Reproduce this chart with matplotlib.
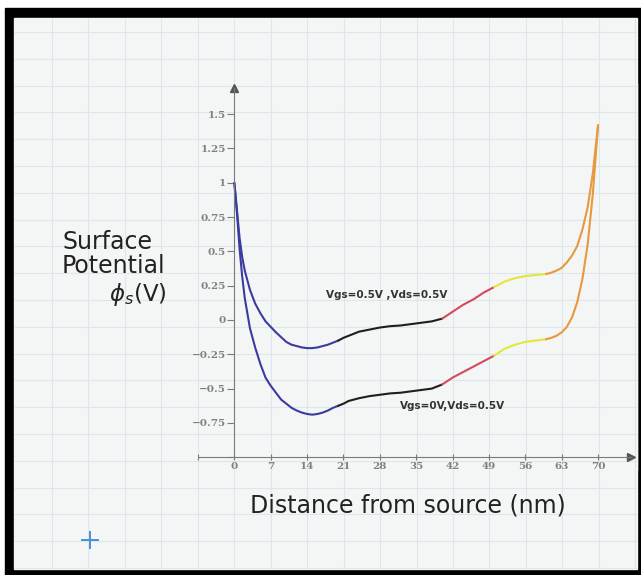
import matplotlib.pyplot as plt
import numpy as np
from matplotlib.patches import Rectangle

# curve data (distance in nm, potential in V)
x_up = [0, 0.5, 1, 1.5, 2, 3, 4, 5, 6, 7, 8, 9, 10, 11, 12, 13, 14, 15, 16, 17, 18, 19, 20,
        21, 22, 23, 24, 26, 28, 30, 32, 34, 36, 38, 40,
        41, 42, 44, 46, 48, 50,
        52, 54, 56, 58, 60,
        61, 62, 63, 64, 65, 66, 67, 68, 69, 70]
y_up = [1.0, 0.80, 0.60, 0.46, 0.36, 0.22, 0.12, 0.05, -0.01, -0.05, -0.09, -0.125, -0.16, -0.18, -0.19, -0.20, -0.205, -0.205, -0.20, -0.19, -0.18, -0.165, -0.15,
        -0.13, -0.115, -0.10, -0.085, -0.07, -0.055, -0.045, -0.04, -0.03, -0.02, -0.01, 0.01,
        0.035, 0.06, 0.11, 0.15, 0.20, 0.24,
        0.28, 0.305, 0.32, 0.328, 0.335,
        0.345, 0.36, 0.38, 0.42, 0.47, 0.54, 0.66, 0.82, 1.07, 1.42]

x_lo = x_up
y_lo = [1.0, 0.78, 0.52, 0.32, 0.16, -0.06, -0.2, -0.32, -0.42, -0.48, -0.53, -0.58, -0.61, -0.64, -0.66, -0.675, -0.685, -0.69, -0.685, -0.675, -0.66, -0.64, -0.625,
        -0.61, -0.59, -0.58, -0.57, -0.555, -0.545, -0.535, -0.53, -0.52, -0.51, -0.50, -0.47,
        -0.445, -0.42, -0.38, -0.34, -0.30, -0.26,
        -0.21, -0.18, -0.16, -0.15, -0.14,
        -0.13, -0.115, -0.09, -0.05, 0.02, 0.13, 0.30, 0.55, 0.92, 1.42]

# region boundaries and colours of the segments
seg_edges = [0, 20, 40, 50, 60, 70]
seg_colors = ['#3b3b9e', '#1e1e1e', '#d24a5c', '#e6e63a', '#e8983e']

xticks = list(range(-7, 71, 7))
yticks = [-1, -0.75, -0.5, -0.25, 0, 0.25, 0.5, 0.75, 1, 1.25, 1.5]

bgcol = '#f3f6f5'
gridcol = '#dde6ee'

fig = plt.figure(figsize=(6.41, 5.75), dpi=100)
fig.patch.set_facecolor('white')

# background sheet in pixel coordinates
bg = fig.add_axes([0, 0, 1, 1])
bg.set_xlim(0, 641)
bg.set_ylim(575, 0)
bg.axis('off')
bg.add_patch(Rectangle((5, 8), 636, 567, color='black'))
bg.add_patch(Rectangle((14, 18), 623, 551, color=bgcol))
for gx in np.arange(52, 637, 36.45):
    bg.vlines(gx, 18, 569, color=gridcol, lw=0.8)
for gy in np.arange(32, 569, 26.8):
    bg.hlines(gy, 14, 637, color=gridcol, lw=0.8)
bg.add_patch(Rectangle((199, 83), 438, 387, color=bgcol))
bg.plot(90, 540, marker='+', ms=13, mew=1.4, color='#4a8fd4')

bg.text(62, 242, 'Surface', fontsize=17, color='#222222', ha='left', va='center')
bg.text(62, 266, 'Potential', fontsize=17, color='#222222', ha='left', va='center')
bg.text(167, 294, r'$\phi_s$(V)', fontsize=16.5, color='#222222', ha='right', va='center')
bg.text(408, 506, 'Distance from source (nm)', fontsize=17, color='#222222', ha='center', va='center')

# plot axes, placed over the plain region
ax = fig.add_axes([198/641, 105/575, 439/641, 387/575])
ax.set_facecolor('none')
ax.set_xlim(-6.923, 77.5)
ax.set_ylim(-1.0933, 1.7274)

for xs, ys in [(x_up, y_up), (x_lo, y_lo)]:
    xs = np.array(xs)
    ys = np.array(ys)
    for i in range(len(seg_colors)):
        m = (xs >= seg_edges[i]) & (xs <= seg_edges[i+1])
        ax.plot(xs[m], ys[m], color=seg_colors[i], lw=1.5, solid_capstyle='round')

ax.text(29.4, 0.18, 'Vgs=0.5V ,Vds=0.5V', fontsize=7.5, fontweight='bold', color='#333333',
        ha='center', va='center')
ax.text(41.9, -0.63, 'Vgs=0V,Vds=0.5V', fontsize=7.5, fontweight='bold', color='#333333',
        ha='center', va='center')

axcol = '#7a7a7a'
for s in ['top', 'right']:
    ax.spines[s].set_visible(False)
ax.spines['left'].set_position(('data', 0))
ax.spines['bottom'].set_position(('data', -1))
ax.spines['left'].set_bounds(-1, 1.69)
ax.spines['bottom'].set_bounds(-7, 76.3)
ax.spines['left'].set_color(axcol)
ax.spines['bottom'].set_color(axcol)
ax.plot(0, 1.69, marker='^', ms=6, color='#555555', clip_on=False)
ax.plot(76.3, -1, marker='>', ms=6, color='#555555', clip_on=False)

ax.set_xticks(xticks)
ax.set_xticklabels(['' if t < 0 else str(t) for t in xticks])
ax.set_yticks(yticks)
ax.set_yticklabels(['' if t == -1 else ('%g' % t).replace('-', '\u2212') for t in yticks])
ax.tick_params(axis='x', direction='inout', length=5, color=axcol, labelsize=7.5, pad=1,
               labelcolor='#808080')
ax.tick_params(axis='y', direction='out', length=5, color=axcol, labelsize=7.5, pad=1,
               labelcolor='#808080')
for lab in ax.get_xticklabels() + ax.get_yticklabels():
    lab.set_family('DejaVu Serif')
    lab.set_fontweight('bold')

plt.savefig('out.png', dpi=100)
